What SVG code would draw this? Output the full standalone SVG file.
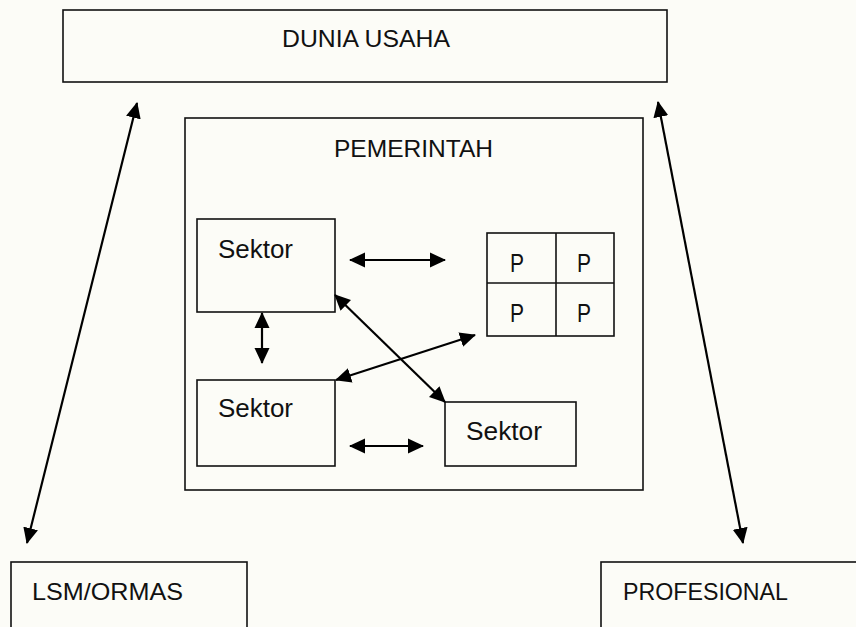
<svg xmlns="http://www.w3.org/2000/svg" width="856" height="627" viewBox="0 0 856 627">
<defs>
<style>
.box{fill:none;stroke:#111;stroke-width:1.6}
.lbl{font-family:"Liberation Sans",Arial,sans-serif;font-size:24px;fill:#111}
.sek{font-family:"Liberation Sans",Arial,sans-serif;font-size:26px;fill:#111}
.con{stroke:#000;stroke-width:2.2;fill:none;marker-start:url(#ah);marker-end:url(#ah)}
</style>
<marker id="ah" viewBox="0 0 16 16" refX="15" refY="8" markerWidth="16" markerHeight="16" markerUnits="userSpaceOnUse" orient="auto-start-reverse">
<path d="M0,0.5 L16,8 L0,15.5 Z" fill="#000"/>
</marker>
</defs>
<rect x="0" y="0" width="856" height="627" fill="#fcfcf7"/>
<g id="dunia-usaha">
<rect class="box" x="63" y="10" width="604" height="72"/>
<text class="lbl" x="282" y="47" textLength="168" lengthAdjust="spacingAndGlyphs">DUNIA USAHA</text>
</g>
<g id="pemerintah">
<rect class="box" x="185" y="118" width="458" height="372"/>
<text class="lbl" x="334" y="157" textLength="159" lengthAdjust="spacingAndGlyphs">PEMERINTAH</text>
</g>
<g id="sektor1">
<rect class="box" x="197" y="219" width="138" height="93"/>
<text class="sek" x="218" y="258" textLength="75" lengthAdjust="spacingAndGlyphs">Sektor</text>
</g>
<g id="sektor2">
<rect class="box" x="197" y="380" width="138" height="86"/>
<text class="sek" x="218" y="417" textLength="75" lengthAdjust="spacingAndGlyphs">Sektor</text>
</g>
<g id="sektor3">
<rect class="box" x="445" y="402" width="131" height="64"/>
<text class="sek" x="466" y="440" textLength="76" lengthAdjust="spacingAndGlyphs">Sektor</text>
</g>
<g id="p-grid">
<rect class="box" x="487" y="233" width="127" height="103"/>
<line class="box" x1="556" y1="233" x2="556" y2="336"/>
<line class="box" x1="487" y1="283" x2="614" y2="283"/>
<text class="sek" x="510" y="272" textLength="14" lengthAdjust="spacingAndGlyphs">P</text>
<text class="sek" x="577" y="272" textLength="14" lengthAdjust="spacingAndGlyphs">P</text>
<text class="sek" x="510" y="322" textLength="14" lengthAdjust="spacingAndGlyphs">P</text>
<text class="sek" x="577" y="322" textLength="14" lengthAdjust="spacingAndGlyphs">P</text>
</g>
<g id="lsm-ormas">
<rect class="box" x="11" y="562" width="236" height="90"/>
<text class="lbl" x="32" y="600" textLength="151" lengthAdjust="spacingAndGlyphs">LSM/ORMAS</text>
</g>
<g id="profesional">
<rect class="box" x="601" y="562" width="280" height="90"/>
<text class="lbl" x="623" y="600" textLength="165" lengthAdjust="spacingAndGlyphs">PROFESIONAL</text>
</g>
<g id="connectors">
<line class="con" x1="350" y1="260" x2="445" y2="260"/>
<line class="con" x1="262" y1="313" x2="262" y2="363"/>
<line class="con" x1="335" y1="295" x2="445" y2="402"/>
<line class="con" x1="336" y1="380" x2="475" y2="335"/>
<line class="con" x1="350" y1="446" x2="423" y2="446"/>
<line class="con" x1="137" y1="103" x2="27" y2="543"/>
<line class="con" x1="658" y1="102" x2="743" y2="543"/>
</g>
</svg>
